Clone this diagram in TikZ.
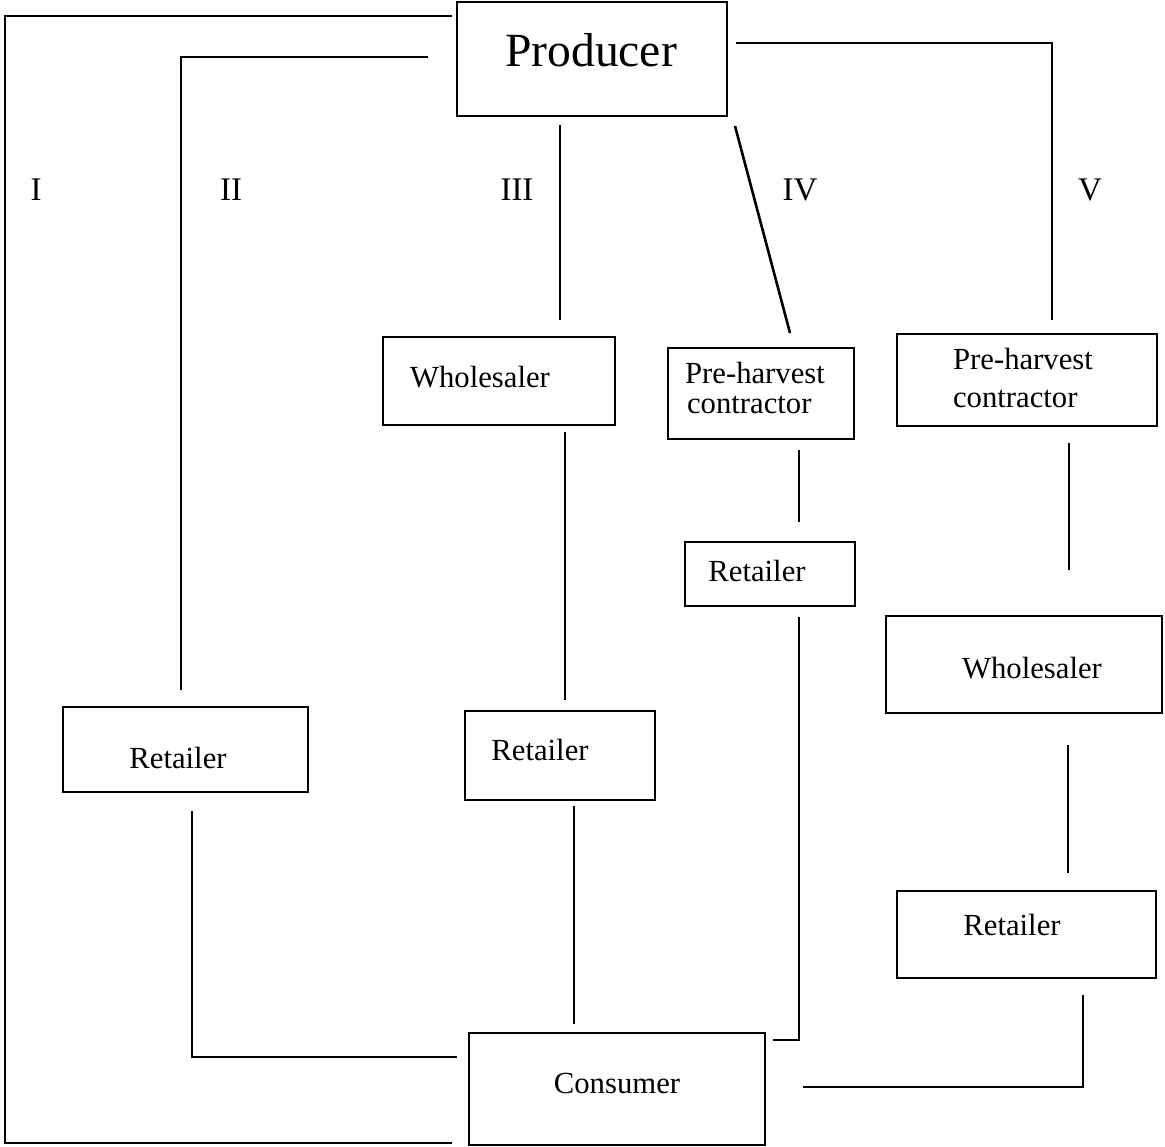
\documentclass[tikz,border=0pt]{standalone}
\usepackage{fontspec}
\setmainfont{Liberation Serif}
\begin{document}
\begin{tikzpicture}[x=1pt,y=-1pt,
  box/.style={draw, line width=2.6pt, inner sep=0pt, minimum width=#1},
  txt/.style={inner sep=0pt, font=\fontsize{30.7}{29}\selectfont},
  txtwide/.style={inner sep=0pt, font=\fontsize{30.7}{38}\selectfont},
  big/.style={inner sep=0pt, font=\fontsize{47.6}{50}\selectfont},
  rom/.style={inner sep=0pt, font=\fontsize{33}{36}\selectfont},
  conn/.style={line width=2.6pt, line cap=butt}]
\useasboundingbox[fill=white] (0,0) rectangle (1165,1147);

% boxes (centre, width, height from the reference)
\node[box=270pt, minimum height=114pt] (prod) at (592,59) {};
\node[box=232pt, minimum height=88pt]  (whs3) at (499,381) {};
\node[box=186pt, minimum height=91pt]  (phc4) at (761,393.5) {};
\node[box=170pt, minimum height=64pt]  (ret4) at (770,574) {};
\node[box=260pt, minimum height=92pt]  (phc5) at (1027,380) {};
\node[box=276pt, minimum height=97pt]  (whs5) at (1024,664.5) {};
\node[box=259pt, minimum height=87pt]  (ret5) at (1026.5,934.5) {};
\node[box=245pt, minimum height=85pt]  (ret2) at (185.5,749.5) {};
\node[box=190pt, minimum height=89pt]  (ret3) at (560,755.5) {};
\node[box=296pt, minimum height=112pt] (cons) at (617,1089) {};

% texts
\node[big] (prodT) at (591,50) {Producer};
\node[txt] (whs3T) at (480,377) {Wholesaler};
\node[txt, align=left] (phc4T) at (755,388) {Pre-harvest\\\hspace*{2pt}contractor};
\node[txt] (ret4T) at (757,571) {Retailer};
\node[txtwide, align=left] (phc5T) at (1023,378) {Pre-harvest\\contractor};
\node[txt] (whs5T) at (1032,668) {Wholesaler};
\node[txt] (ret5T) at (1012,925) {Retailer};
\node[txt] (ret2T) at (178,758) {Retailer};
\node[txt] (ret3T) at (540,750) {Retailer};
\node[txt] (consT) at (617,1083) {Consumer};

% channel labels
\node[rom] (lI)   at (36,190)  {I};
\node[rom] (lII)  at (231,190) {II};
\node[rom] (lIII) at (517,190) {III};
\node[rom] (lIV)  at (800,190) {IV};
\node[rom] (lV)   at (1090,190) {V};

% connector end points
\coordinate (a1) at (452,16);
\coordinate (a2) at (452,1143);
\coordinate (b1) at (428,57);
\coordinate (b2) at (181,690);
\coordinate (c1) at (192,811);
\coordinate (c2) at (457,1057);
\coordinate (d1) at (560,125);
\coordinate (d2) at (560,320);
\coordinate (e1) at (565,432);
\coordinate (e2) at (565,700);
\coordinate (f1) at (574,806);
\coordinate (f2) at (574,1024);
\coordinate (g1) at (735,126);
\coordinate (g2) at (790,333);
\coordinate (h1) at (799,450);
\coordinate (h2) at (799,522);
\coordinate (i1) at (799,617);
\coordinate (i2) at (773,1040);
\coordinate (j1) at (736,43);
\coordinate (j2) at (1052,320);
\coordinate (k1) at (1069,443);
\coordinate (k2) at (1069,570);
\coordinate (l1) at (1068,745);
\coordinate (l2) at (1068,873);
\coordinate (m1) at (1083,995);
\coordinate (m2) at (803,1087);

% channel I
\draw[conn] (a1) -- (5,16) -- (5,1143) -- (a2);
% channel II
\draw[conn] (b1) -| (b2);
\draw[conn] (c1) |- (c2);
% channel III
\draw[conn] (d1) -- (d2);
\draw[conn] (e1) -- (e2);
\draw[conn] (f1) -- (f2);
% channel IV
\draw[conn] (g1) -- (g2);
\draw[conn] (h1) -- (h2);
\draw[conn] (i1) |- (i2);
% channel V
\draw[conn] (j1) -| (j2);
\draw[conn] (k1) -- (k2);
\draw[conn] (l1) -- (l2);
\draw[conn] (m1) |- (m2);
\end{tikzpicture}
\end{document}
